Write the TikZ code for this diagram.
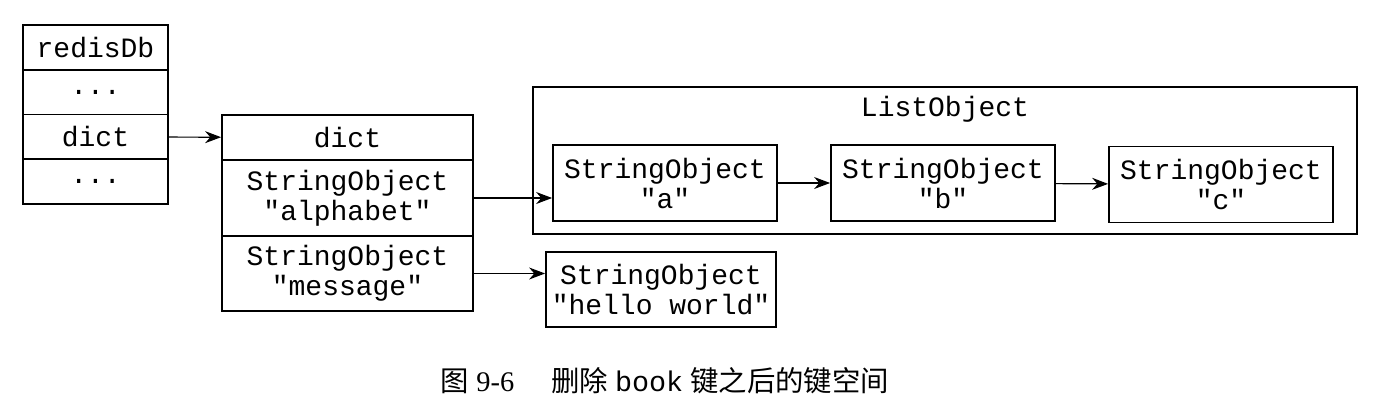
\documentclass[tikz,border=0pt]{standalone}
\usepackage{fontspec}
\setmainfont{Liberation Serif}
\setmonofont{Liberation Mono}
\newfontfamily\cjk{Noto Sans CJK SC}
\usetikzlibrary{arrows.meta}

\begin{document}
\begin{tikzpicture}[x=0.5pt, y=-0.5pt,
    cell/.style={draw, line width=0.9pt, inner sep=0pt, align=center,
      font=\ttfamily\fontsize{14}{15}\selectfont},
    ptr/.style={-{Stealth[length=8pt, width=6pt]}, line width=0.6pt}]
    \useasboundingbox (0,0) rectangle (1382,408);

    % redisDb
    \node[cell, minimum width=72.5pt, minimum height=22.4pt] (db) at (95.5, 47.4) {redisDb};
    \node[cell, minimum width=72.5pt, minimum height=22.4pt] (db1) at (95.5, 92.1) {...};
    \node[cell, minimum width=72.5pt, minimum height=22.4pt] (dbdict) at (95.5, 136.9) {dict};
    \node[cell, minimum width=72.5pt, minimum height=22.4pt] (db2) at (95.5, 181.6) {...};

    % dict
    \node[cell, minimum width=125.5pt, minimum height=22.5pt] (dict) at (347.5, 137.5) {dict};
    \node[cell, minimum width=125.5pt, minimum height=38pt] (kalpha) at (347.5, 198) {StringObject\\"alphabet"};
    \node[cell, minimum width=125.5pt, minimum height=37.5pt] (kmsg) at (347.5, 273.5) {StringObject\\"message"};

    % ListObject
    \draw[line width=0.9pt] (533, 87) rectangle (1357, 234);
    \node[cell, draw=none] (list) at (945, 109) {ListObject};
    \node[cell, minimum width=112pt, minimum height=38pt] (sa) at (665, 183) {StringObject\\"a"};
    \node[cell, minimum width=112pt, minimum height=38pt] (sb) at (943, 183) {StringObject\\"b"};
    \node[cell, minimum width=112pt, minimum height=38pt] (sc) at (1221, 184.5) {StringObject\\"c"};

    % valeur de message
    \node[cell, minimum width=115pt, minimum height=37.5pt] (hello) at (661, 289.5) {StringObject\\"hello world"};

    % pointeurs
    \draw[ptr] (dbdict) -- (dict);
    \draw[ptr] (kalpha.east) -- (kalpha.east -| sa.west);
    \draw[ptr] (kmsg.east) -- (kmsg.east -| hello.west);
    \draw[ptr] (sa) -- (sb);
    \draw[ptr] (sb) -- (sc);

    % legende
    \node[font=\fontsize{14.2}{15}\selectfont] (caption) at (665, 381)
      {{\cjk 图}~9-6\hspace{1.3em}{\cjk 删除}~\texttt{book}~{\cjk 键之后的键空间}};
\end{tikzpicture}
\end{document}
